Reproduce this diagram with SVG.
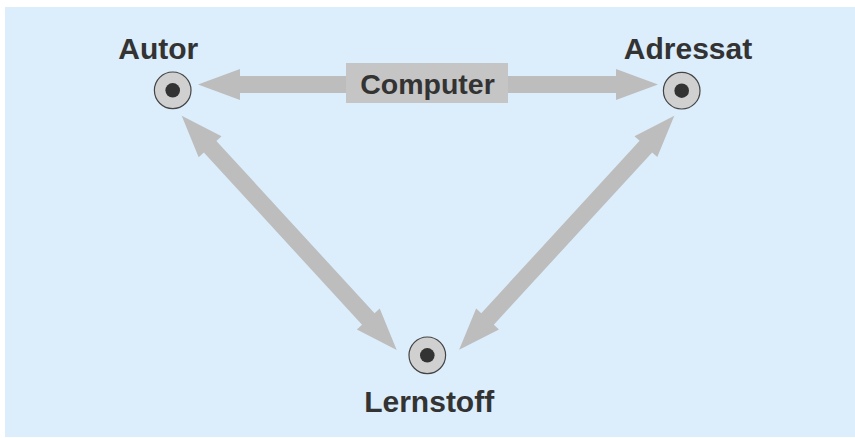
<svg xmlns="http://www.w3.org/2000/svg" xmlns:xlink="http://www.w3.org/1999/xlink" width="855" height="438" viewBox="0 0 855 438">
  <style>
    .label { font-family: "Liberation Sans", Arial, Helvetica, sans-serif; font-weight: bold; font-size: 30px; fill: #333333; text-anchor: middle; }
    .arrow { fill: #bdbdbd; }
    .ring { fill: #d0d0d0; stroke: #444444; stroke-width: 1.2; }
    .dot { fill: #333333; }
  </style>
  <defs>
    <!-- double-headed block arrow, tips at (0,0) and (318,0) -->
    <path id="dbl318" d="M0,0 L42,-15.5 L42,-8.5 L276,-8.5 L276,-15.5 L318,0 L276,15.5 L276,8.5 L42,8.5 L42,15.5 Z"/>
  </defs>

  <rect x="5" y="7" width="850" height="430" fill="#dcedfb"/>

  <g id="connectors">
    <path class="arrow" d="M198,84.5 L240,69 L240,76 L616,76 L616,69 L658,84.5 L616,100 L616,93 L240,93 L240,100 Z"/>
    <use class="arrow" xlink:href="#dbl318" transform="translate(181.7,115.7) rotate(47.46)"/>
    <use class="arrow" xlink:href="#dbl318" transform="translate(674.3,115.7) rotate(132.58)"/>
    <g id="computer-label">
      <rect x="346" y="63" width="162" height="40" fill="#c5c5c5"/>
      <text class="label" x="427.5" y="93.5" style="font-size:28.5px">Computer</text>
    </g>
  </g>

  <g id="autor">
    <text class="label" x="158.3" y="59.3">Autor</text>
    <circle class="ring" cx="172.7" cy="90.3" r="18.3"/>
    <circle class="dot" cx="172.7" cy="90.3" r="7.3"/>
  </g>

  <g id="adressat">
    <text class="label" x="688" y="58.5">Adressat</text>
    <circle class="ring" cx="681.7" cy="90.7" r="18.3"/>
    <circle class="dot" cx="681.7" cy="90.7" r="7.3"/>
  </g>

  <g id="lernstoff">
    <text class="label" x="429.2" y="411.5">Lernstoff</text>
    <circle class="ring" cx="427.3" cy="355.3" r="18.3"/>
    <circle class="dot" cx="427.3" cy="355.3" r="7.3"/>
  </g>
</svg>
